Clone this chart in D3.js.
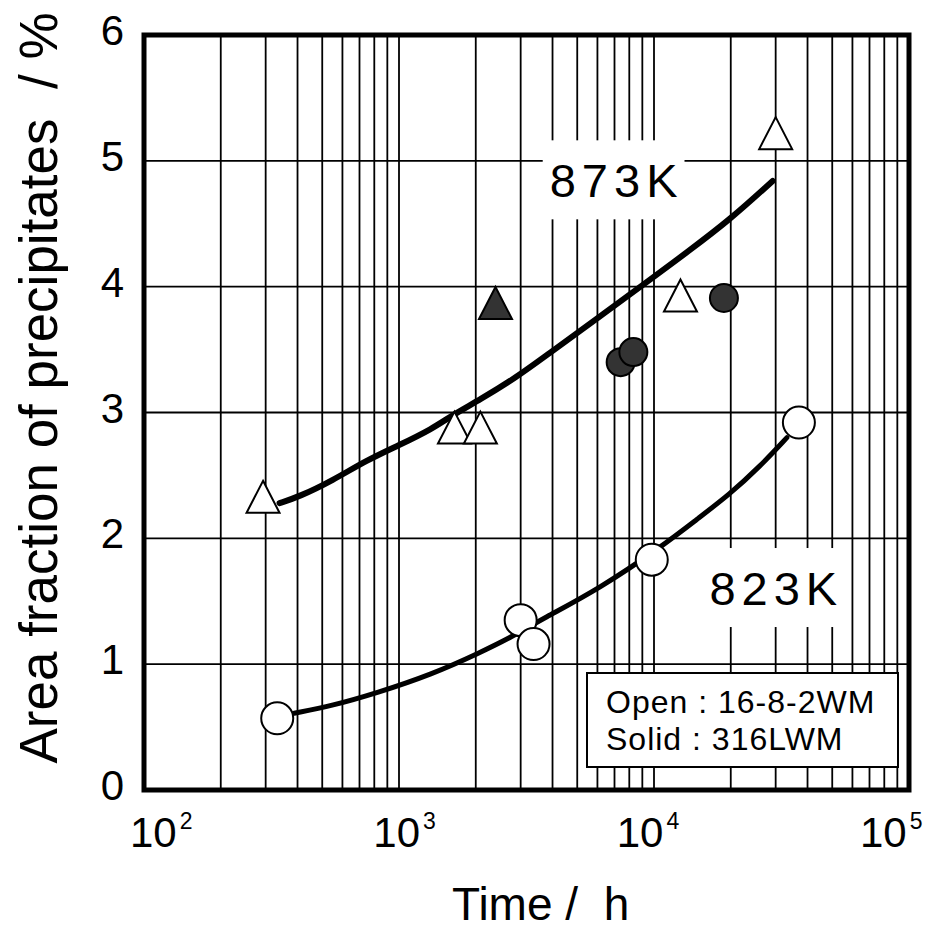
<!DOCTYPE html>
<html>
<head>
<meta charset="utf-8">
<script src="https://cdn.jsdelivr.net/npm/d3@7"></script>
<style>
  body { margin: 0; background: #fff; }
  svg { display: block; }
  text { font-family: "Liberation Sans", Arial, Helvetica, sans-serif; fill: #000; }
</style>
</head>
<body>
<svg id="chart" width="943" height="932"></svg>
<script>
// values (time in h, area fraction in %)
let openTri = [[293, 2.33], [1650, 2.88], [2085, 2.88], [12700, 3.93], [30000, 5.22]];
let solidTri = [[2390, 3.87]];
let solidCirc = [[7400, 3.40], [8300, 3.48], [18800, 3.91]];
let openCirc = [[333, 0.57], [3000, 1.35], [3370, 1.16], [9800, 1.83], [37000, 2.92]];

// hand drawn trend lines
let curve873 = [[340, 2.28], [405, 2.33], [550, 2.46], [745, 2.62], [1000, 2.74], [1350, 2.87],
  [1620, 2.98], [2070, 3.10], [2890, 3.28], [3820, 3.46], [6110, 3.76], [9870, 4.07],
  [13400, 4.27], [19800, 4.53], [29200, 4.84]];
let curve823 = [[388, 0.61], [547, 0.67], [815, 0.77], [1350, 0.92], [2070, 1.09], [2790, 1.22],
  [3650, 1.36], [6110, 1.60], [10800, 1.94], [14700, 2.15], [19800, 2.35], [26000, 2.57],
  [33200, 2.80]];

let xTickVals = [1e2, 1e3, 1e4, 1e5];
let xTickExp = ['2', '3', '4', '5'];
let yTickVals = [0, 1, 2, 3, 4, 5, 6];

let svg = d3.select('#chart');

let x = d3.scaleLog().domain([1e2, 1e5]).range([144, 909]);
let y = d3.scaleLinear().domain([0, 6]).range([790, 35]);
// the decade labels sit a bit inside the tick positions in the original
let xLab = d3.scaleLog().domain([1e2, 1e5]).range([130, 860]);

// grid
let grid = svg.append('g').attr('stroke', '#000').attr('stroke-width', 1.8);
grid.selectAll('line.v')
  .data(x.ticks().filter(d => d > 1e2 && d < 1e5))
  .join('line')
  .attr('x1', d => x(d)).attr('x2', d => x(d))
  .attr('y1', y(6)).attr('y2', y(0));
grid.selectAll('line.h')
  .data(yTickVals.filter(d => d > 0 && d < 6))
  .join('line')
  .attr('x1', x(1e2)).attr('x2', x(1e5))
  .attr('y1', d => y(d)).attr('y2', d => y(d));

// temperature labels with white boxes over the grid
function tempLabel(label, t, v) {
  let g = svg.append('g');
  let txt = g.append('text')
    .attr('x', x(t)).attr('y', y(v))
    .attr('font-size', 47)
    .attr('letter-spacing', 6)
    .text(label);
  let bb = txt.node().getBBox();
  g.insert('rect', 'text')
    .attr('x', bb.x - 7).attr('y', bb.y - 14)
    .attr('width', bb.width + 8).attr('height', bb.height + 26)
    .attr('fill', '#fff');
}
tempLabel('873K', 3900, 4.71);
tempLabel('823K', 16500, 1.47);

// trend lines
let line = d3.line().x(d => x(d[0])).y(d => y(d[1])).curve(d3.curveBasis);
svg.append('path').datum(curve873).attr('d', line)
  .attr('fill', 'none').attr('stroke', '#000').attr('stroke-width', 6).attr('stroke-linecap', 'round');
svg.append('path').datum(curve823).attr('d', line)
  .attr('fill', 'none').attr('stroke', '#000').attr('stroke-width', 5).attr('stroke-linecap', 'round');

// markers
let triPath = 'M0,-16L16.5,16L-16.5,16Z';
svg.selectAll('path.otri').data(openTri).join('path')
  .attr('class', 'otri')
  .attr('d', triPath)
  .attr('transform', d => `translate(${x(d[0])},${y(d[1])})`)
  .attr('fill', '#fff').attr('stroke', '#000').attr('stroke-width', 2);
svg.selectAll('path.stri').data(solidTri).join('path')
  .attr('class', 'stri')
  .attr('d', triPath)
  .attr('transform', d => `translate(${x(d[0])},${y(d[1])})`)
  .attr('fill', '#333').attr('stroke', '#000').attr('stroke-width', 2);
svg.selectAll('circle.scirc').data(solidCirc).join('circle')
  .attr('class', 'scirc')
  .attr('cx', d => x(d[0])).attr('cy', d => y(d[1])).attr('r', 14)
  .attr('fill', '#333').attr('stroke', '#000').attr('stroke-width', 2);
svg.selectAll('circle.ocirc').data(openCirc).join('circle')
  .attr('class', 'ocirc')
  .attr('cx', d => x(d[0])).attr('cy', d => y(d[1])).attr('r', 16)
  .attr('fill', '#fff').attr('stroke', '#000').attr('stroke-width', 2);

// legend box
let leg = svg.append('g');
leg.append('rect')
  .attr('x', 587).attr('y', 673).attr('width', 311).attr('height', 94)
  .attr('fill', '#fff').attr('stroke', '#000').attr('stroke-width', 2);
leg.append('text').attr('x', 606).attr('y', 713)
  .attr('font-size', 32).attr('letter-spacing', 1)
  .style('white-space', 'pre').text('Open : 16-8-2WM');
leg.append('text').attr('x', 606).attr('y', 750)
  .attr('font-size', 32).attr('letter-spacing', 1)
  .style('white-space', 'pre').text('Solid : 316LWM');

// frame
svg.append('rect')
  .attr('x', x(1e2)).attr('y', y(6))
  .attr('width', x(1e5) - x(1e2)).attr('height', y(0) - y(6))
  .attr('fill', 'none').attr('stroke', '#000').attr('stroke-width', 5);

// y tick labels
svg.selectAll('text.ytick').data(yTickVals).join('text')
  .attr('class', 'ytick')
  .attr('x', 124).attr('y', d => y(d) + 10)
  .attr('text-anchor', 'end')
  .attr('font-size', 42)
  .text(d => d);

// x tick labels (10 with superscript)
let xt = svg.selectAll('text.xtick').data(xTickVals).join('text')
  .attr('class', 'xtick')
  .attr('x', d => xLab(d)).attr('y', 847)
  .attr('font-size', 42);
xt.append('tspan').text('10');
xt.append('tspan')
  .attr('dx', 3).attr('dy', -18)
  .attr('font-size', 23)
  .text((d, i) => xTickExp[i]);

// axis titles
svg.append('text')
  .attr('x', 452).attr('y', 920)
  .attr('font-size', 46)
  .style('white-space', 'pre')
  .text('Time /  h');

svg.append('text')
  .attr('transform', 'translate(57,388) rotate(-90)')
  .attr('text-anchor', 'middle')
  .attr('font-size', 53)
  .attr('textLength', 751)
  .attr('lengthAdjust', 'spacingAndGlyphs')
  .style('white-space', 'pre')
  .text('Area fraction of precipitates  / %');
</script>
</body>
</html>
